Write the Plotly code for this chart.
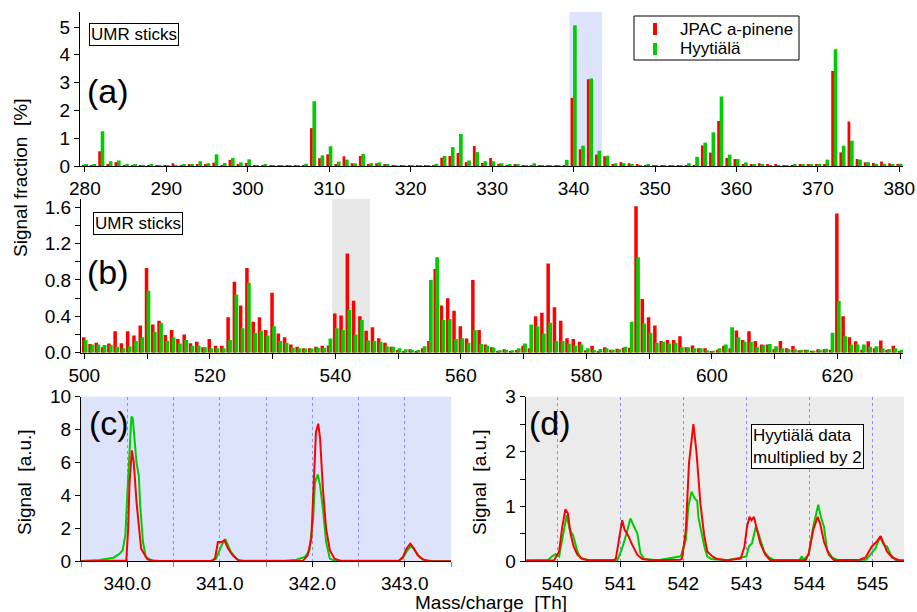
import plotly.graph_objects as go

# ---------------- data ----------------
A_MZ = list(range(280, 381))
A_JPAC = [0.02, 0.02, 0.53, 0.06, 0.14, 0.02, 0.02, 0.01, 0.02, 0.01,
          0.01, 0.10, 0.02, 0.04, 0.06, 0.07, 0.12, 0.03, 0.22, 0.07,
          0.11, 0.02, 0.02, 0.01, 0.01, 0.01, 0.01, 0.02, 1.36, 0.28,
          0.42, 0.07, 0.35, 0.10, 0.36, 0.07, 0.10, 0.05, 0.02, 0.01,
          0.01, 0.01, 0.02, 0.03, 0.30, 0.36, 0.47, 0.14, 0.72, 0.11,
          0.29, 0.08, 0.03, 0.06, 0.02, 0.02, 0.01, 0.01, 0.02, 0.02,
          2.45, 0.60, 3.12, 0.41, 0.35, 0.07, 0.14, 0.10, 0.04, 0.03,
          0.02, 0.01, 0.01, 0.01, 0.02, 0.03, 0.74, 0.48, 1.62, 0.29,
          0.25, 0.06, 0.04, 0.10, 0.04, 0.04, 0.02, 0.03, 0.05, 0.05,
          0.04, 0.04, 3.42, 0.49, 1.60, 0.25, 0.13, 0.11, 0.16, 0.10,
          0.07]
A_HYY = [0.05, 0.05, 1.25, 0.17, 0.20, 0.05, 0.06, 0.02, 0.06, 0.02,
         0.01, 0.03, 0.05, 0.06, 0.17, 0.10, 0.42, 0.11, 0.29, 0.13,
         0.24, 0.03, 0.05, 0.02, 0.01, 0.01, 0.02, 0.08, 2.33, 0.38,
         0.71, 0.16, 0.23, 0.10, 0.43, 0.10, 0.13, 0.05, 0.02, 0.02,
         0.01, 0.02, 0.02, 0.08, 0.36, 0.68, 1.15, 0.20, 0.50, 0.17,
         0.17, 0.10, 0.07, 0.05, 0.02, 0.10, 0.03, 0.02, 0.03, 0.22,
         5.06, 0.73, 3.15, 0.55, 0.37, 0.10, 0.10, 0.06, 0.03, 0.05,
         0.02, 0.02, 0.02, 0.02, 0.10, 0.33, 0.84, 1.21, 2.50, 0.41,
         0.25, 0.13, 0.04, 0.07, 0.03, 0.03, 0.02, 0.07, 0.05, 0.04,
         0.07, 0.23, 4.20, 0.73, 0.91, 0.23, 0.14, 0.08, 0.08, 0.07,
         0.08]

B_MZ = list(range(500, 631))
B_JPAC = [0.17, 0.095, 0.11, 0.06, 0.10, 0.235, 0.105, 0.235, 0.19, 0.30,
          0.93, 0.31, 0.35, 0.195, 0.25, 0.15, 0.20, 0.105, 0.12, 0.06,
          0.15, 0.077, 0.077, 0.39, 0.78, 0.52, 0.93, 0.34, 0.39, 0.25,
          0.66, 0.21, 0.17, 0.09, 0.066, 0.05, 0.05, 0.066, 0.077, 0.08,
          0.43, 0.41, 1.09, 0.57, 0.40, 0.24, 0.28, 0.16, 0.11, 0.066,
          0.03, 0.02, 0.037, 0.02, 0.05, 0.13, 0.92, 0.52, 0.60, 0.46,
          0.29, 0.155, 0.80, 0.25, 0.09, 0.06, 0.01, 0.037, 0.011, 0.03,
          0.077, 0.048, 0.40, 0.44, 0.98, 0.50, 0.35, 0.16, 0.15, 0.12,
          0.026, 0.077, 0.01, 0.06, 0.033, 0.044, 0.055, 0.055, 1.61, 0.59,
          0.39, 0.30, 0.13, 0.14, 0.14, 0.18, 0.06, 0.08, 0.048, 0.048,
          0.011, 0.033, 0.077, 0.048, 0.245, 0.14, 0.235, 0.13, 0.09, 0.09,
          0.037, 0.13, 0.05, 0.073, 0.026, 0.033, 0.022, 0.037, 0.037, 0.033,
          1.53, 0.40, 0.17, 0.125, 0.033, 0.125, 0.048, 0.135, 0.03, 0.077,
          0.015]
B_HYY = [0.14, 0.09, 0.09, 0.085, 0.085, 0.065, 0.05, 0.07, 0.13, 0.17,
         0.68, 0.23, 0.33, 0.13, 0.17, 0.10, 0.14, 0.077, 0.08, 0.06,
         0.05, 0.05, 0.05, 0.14, 0.64, 0.27, 0.77, 0.22, 0.24, 0.19,
         0.29, 0.13, 0.11, 0.055, 0.05, 0.045, 0.045, 0.055, 0.055, 0.155,
         0.27, 0.25, 0.47, 0.20, 0.36, 0.135, 0.13, 0.12, 0.07, 0.066,
         0.05, 0.037, 0.033, 0.03, 0.07, 0.80, 1.05, 0.36, 0.37, 0.15,
         0.16, 0.11, 0.25, 0.095, 0.077, 0.055, 0.026, 0.033, 0.026, 0.048,
         0.10, 0.31, 0.29, 0.21, 0.33, 0.13, 0.13, 0.10, 0.08, 0.09,
         0.048, 0.03, 0.04, 0.048, 0.033, 0.037, 0.066, 0.34, 1.05, 0.32,
         0.22, 0.11, 0.12, 0.10, 0.11, 0.06, 0.06, 0.048, 0.048, 0.026,
         0.022, 0.048, 0.09, 0.28, 0.17, 0.12, 0.12, 0.06, 0.085, 0.095,
         0.07, 0.048, 0.037, 0.04, 0.03, 0.033, 0.022, 0.033, 0.044, 0.22,
         0.57, 0.18, 0.09, 0.09, 0.09, 0.066, 0.07, 0.048, 0.04, 0.048,
         0.033]

C_MZ_HYY = [339.5, 339.7, 339.85, 339.92, 339.95, 339.98, 340.0, 340.03, 340.045, 340.06,
            340.08, 340.1, 340.125, 340.14, 340.17, 340.2, 340.26, 340.35, 340.9, 340.96,
            341.02, 341.06, 341.09, 341.12, 341.18, 341.22, 341.7, 341.83, 341.92, 341.97,
            342.01, 342.03, 342.06, 342.085, 342.115, 342.15, 342.19, 342.24, 342.93, 342.98,
            343.02, 343.07, 343.12, 343.17, 343.22, 343.3, 343.5]
C_HYY = [0.02, 0.08, 0.22, 0.47, 0.67, 1.6, 4.0, 7.85, 8.8, 8.67,
         7.05, 6.0, 5.2, 3.4, 1.17, 0.26, 0.06, 0.02, 0.02, 0.16,
         0.97, 1.34, 0.97, 0.57, 0.16, 0.03, 0.03, 0.1, 0.26, 0.67,
         2.6, 4.8, 5.27, 4.6, 3.2, 1.17, 0.16, 0.03, 0.03, 0.2,
         0.6, 0.95, 0.57, 0.2, 0.05, 0.02, 0.02]
C_MZ_JPAC = [339.5, 339.9, 339.99, 340.01, 340.025, 340.05, 340.07, 340.1, 340.13, 340.15,
             340.18, 340.22, 340.28, 340.92, 340.95, 340.98, 341.02, 341.05, 341.09, 341.14,
             341.2, 341.26, 341.9, 341.95, 341.99, 342.02, 342.04, 342.065, 342.085, 342.115,
             342.15, 342.19, 342.24, 342.31, 342.94, 342.98, 343.02, 343.06, 343.1, 343.14,
             343.2, 343.27, 343.5]
C_JPAC = [0.01, 0.02, 0.05, 2.0, 4.8, 6.74, 6.03, 3.6, 1.58, 0.77,
          0.47, 0.12, 0.02, 0.02, 0.2, 1.17, 1.17, 1.28, 0.77, 0.36,
          0.06, 0.02, 0.03, 0.36, 1.38, 5.0, 7.85, 8.36, 7.45, 4.4,
          1.98, 0.67, 0.16, 0.02, 0.03, 0.26, 0.77, 1.07, 0.77, 0.36,
          0.1, 0.02, 0.01]

D_MZ_JPAC = [539.5, 539.95, 540.03, 540.08, 540.13, 540.17, 540.21, 540.26, 540.32, 540.4,
             540.5, 540.9, 540.93, 540.98, 541.03, 541.07, 541.12, 541.19, 541.27, 541.35,
             541.5, 541.95, 541.98, 542.04, 542.09, 542.16, 542.21, 542.27, 542.33, 542.38,
             542.46, 542.54, 542.7, 542.91, 542.97, 543.01, 543.05, 543.08, 543.12, 543.17,
             543.22, 543.3, 543.38, 543.94, 543.99, 544.06, 544.13, 544.17, 544.23, 544.31,
             544.39, 544.8, 544.89, 544.99, 545.07, 545.13, 545.18, 545.23, 545.31, 545.42,
             545.5]
D_JPAC = [0.01, 0.02, 0.18, 0.63, 0.95, 0.87, 0.51, 0.27, 0.12, 0.04,
          0.02, 0.02, 0.05, 0.39, 0.75, 0.57, 0.48, 0.3, 0.12, 0.04,
          0.02, 0.03, 0.05, 0.57, 1.79, 2.5, 1.97, 1.06, 0.48, 0.18,
          0.09, 0.04, 0.02, 0.05, 0.27, 0.63, 0.81, 0.75, 0.81, 0.57,
          0.33, 0.12, 0.02, 0.02, 0.15, 0.57, 0.81, 0.69, 0.36, 0.12,
          0.02, 0.03, 0.07, 0.27, 0.36, 0.46, 0.33, 0.18, 0.07, 0.02,
          0.01]
D_MZ_HYY = [539.5, 539.85, 539.92, 539.97, 540.03, 540.08, 540.15, 540.2, 540.25, 540.32,
            540.37, 540.5, 540.95, 540.98, 541.03, 541.1, 541.16, 541.22, 541.27, 541.32,
            541.38, 541.6, 541.96, 542.04, 542.08, 542.13, 542.18, 542.22, 542.24, 542.28,
            542.34, 542.38, 542.44, 542.7, 543.0, 543.04, 543.09, 543.15, 543.2, 543.28,
            543.36, 543.44, 543.84, 543.88, 543.9, 543.99, 544.06, 544.14, 544.18, 544.23,
            544.28, 544.36, 544.45, 544.9, 544.97, 545.05, 545.12, 545.18, 545.23, 545.29,
            545.37, 545.5]
D_HYY = [0.02, 0.02, 0.09, 0.13, 0.09, 0.39, 0.84, 0.57, 0.48, 0.18,
         0.06, 0.02, 0.02, 0.09, 0.24, 0.51, 0.78, 0.63, 0.51, 0.15,
         0.04, 0.02, 0.09, 0.39, 1.0, 1.27, 1.15, 1.1, 0.8, 0.57,
         0.24, 0.09, 0.04, 0.02, 0.09, 0.27, 0.33, 0.63, 0.48, 0.18,
         0.07, 0.02, 0.02, 0.09, 0.02, 0.12, 0.63, 1.03, 0.81, 0.63,
         0.21, 0.07, 0.02, 0.03, 0.12, 0.24, 0.45, 0.3, 0.27, 0.12,
         0.02, 0.02]

ZOOM_C = [339.5, 343.5]   # m/z window shown in panel (c), highlighted in (a)
ZOOM_D = [539.5, 545.5]   # m/z window shown in panel (d), highlighted in (b)

SERIES = ["JPAC a-pinene", "Hyytiälä"]
RED = "#ff0000"
GREEN = "#00cc00"
BLUE_BG = "#dce3fa"
GRAY_BG = "#ebebeb"
GRID = "#8c8cff"
FONT = "Liberation Sans, Arial, sans-serif"

W, H = 917, 612


def px(x):
    return x / W


def py(y):
    return 1 - y / H


fig = go.Figure()

# panel (a) sticks
fig.add_trace(go.Bar(x=A_MZ, y=A_JPAC, offset=-0.36, width=0.34, marker=dict(color=RED, line_width=0),
                     xaxis="x", yaxis="y", showlegend=False, name=SERIES[0]))
fig.add_trace(go.Bar(x=A_MZ, y=A_HYY, offset=-0.06, width=0.45, marker=dict(color=GREEN, line_width=0),
                     xaxis="x", yaxis="y", showlegend=False, name=SERIES[1]))
# panel (b) sticks
fig.add_trace(go.Bar(x=B_MZ, y=B_JPAC, offset=-0.37, width=0.56, marker=dict(color=RED, line_width=0),
                     xaxis="x2", yaxis="y2", showlegend=False, name=SERIES[0]))
fig.add_trace(go.Bar(x=B_MZ, y=B_HYY, offset=-0.08, width=0.6, marker=dict(color=GREEN, line_width=0),
                     xaxis="x2", yaxis="y2", showlegend=False, name=SERIES[1]))
# panel (c) spectra
fig.add_trace(go.Scatter(x=C_MZ_HYY, y=C_HYY, mode="lines", line=dict(color=GREEN, width=2),
                         xaxis="x3", yaxis="y3", showlegend=False, name=SERIES[1]))
fig.add_trace(go.Scatter(x=C_MZ_JPAC, y=C_JPAC, mode="lines", line=dict(color=RED, width=2),
                         xaxis="x3", yaxis="y3", showlegend=False, name=SERIES[0]))
# panel (d) spectra
fig.add_trace(go.Scatter(x=D_MZ_HYY, y=D_HYY, mode="lines", line=dict(color=GREEN, width=2),
                         xaxis="x4", yaxis="y4", showlegend=False, name=SERIES[1]))
fig.add_trace(go.Scatter(x=D_MZ_JPAC, y=D_JPAC, mode="lines", line=dict(color=RED, width=2),
                         xaxis="x4", yaxis="y4", showlegend=False, name=SERIES[0]))

axis_common = dict(showline=True, linecolor="black", linewidth=1, ticks="outside", ticklen=5,
                   tickcolor="black", showgrid=False, zeroline=False, automargin=False,
                   tickfont=dict(size=19, color="black", family=FONT))

fig.update_layout(
    template="none",
    width=W, height=H, margin=dict(l=0, r=0, t=0, b=0, pad=0, autoexpand=False),
    paper_bgcolor="white", plot_bgcolor="rgba(0,0,0,0)",
    barmode="overlay", showlegend=False,
    font=dict(family=FONT, color="black"),
    xaxis=dict(domain=[px(80), px(903)], range=[279.4, 380.45], anchor="y",
               tick0=280, dtick=10, **axis_common),
    yaxis=dict(domain=[py(166), py(12)], range=[0, 5.54], anchor="x",
               tick0=0, dtick=1, **axis_common),
    xaxis2=dict(domain=[px(81), px(903)], range=[499.47, 630.45], anchor="y2",
                tick0=500, dtick=20, minor=dict(dtick=10, ticks="outside", ticklen=5, tickcolor="black"),
                **axis_common),
    yaxis2=dict(domain=[py(352.7), py(199)], range=[0, 1.69], anchor="x2",
                tick0=0, dtick=0.4, tickformat=".1f",
                minor=dict(dtick=0.2, ticks="outside", ticklen=5, tickcolor="black"),
                **axis_common),
    xaxis3=dict(domain=[px(81), px(451)], range=ZOOM_C, anchor="y3",
                tick0=340, dtick=1, tickformat=".1f",
                **{**axis_common, "showgrid": True},
                gridcolor=GRID, griddash="dot", gridwidth=1,
                minor=dict(dtick=0.5, ticks="outside", ticklen=5, tickcolor="#888888",
                           showgrid=True, gridcolor=GRID, griddash="dot", gridwidth=1)),
    yaxis3=dict(domain=[py(561.3), py(396.7)], range=[0, 10], anchor="x3",
                tick0=0, dtick=2, **axis_common),
    xaxis4=dict(domain=[px(525.7), px(904)], range=ZOOM_D, anchor="y4",
                tick0=540, dtick=1,
                **{**axis_common, "showgrid": True},
                gridcolor=GRID, griddash="dot", gridwidth=1),
    yaxis4=dict(domain=[py(561.3), py(396.7)], range=[0, 3], anchor="x4",
                tick0=0, dtick=1,
                minor=dict(dtick=0.5, ticks="outside", ticklen=5, tickcolor="black"),
                **axis_common),
)

shapes = [
    dict(type="rect", xref="x", yref="y domain", x0=ZOOM_C[0], x1=ZOOM_C[1], y0=0, y1=1,
         fillcolor=BLUE_BG, line_width=0, layer="below"),
    dict(type="rect", xref="x2", yref="y2 domain", x0=ZOOM_D[0], x1=ZOOM_D[1], y0=0, y1=1,
         fillcolor="#e8e8e8", line_width=0, layer="below"),
    dict(type="rect", xref="x3 domain", yref="y3 domain", x0=0, x1=1, y0=0, y1=1,
         fillcolor=BLUE_BG, line_width=0, layer="below"),
    dict(type="rect", xref="x4 domain", yref="y4 domain", x0=0, x1=1, y0=0, y1=1,
         fillcolor=GRAY_BG, line_width=0, layer="below"),
    # legend frame and stick keys
    dict(type="rect", xref="paper", yref="paper", x0=px(634), x1=px(799), y0=py(60), y1=py(16),
         fillcolor="white", line=dict(color="black", width=1), layer="above"),
    dict(type="line", xref="paper", yref="paper", x0=px(655), x1=px(655), y0=py(35), y1=py(23),
         line=dict(color=RED, width=4), layer="above"),
    dict(type="line", xref="paper", yref="paper", x0=px(655), x1=px(655), y0=py(55), y1=py(43),
         line=dict(color=GREEN, width=4), layer="above"),
]
fig.update_layout(shapes=shapes)

ann = []


def label(text, x, y, size, **kw):
    d = dict(text=text, x=px(x), y=py(y), xref="paper", yref="paper", showarrow=False,
             font=dict(size=size, family=FONT, color="black"))
    d.update(kw)
    ann.append(d)


label(SERIES[0], 678, 29, 17, xanchor="left", yanchor="middle")
label(SERIES[1], 678, 49, 17, xanchor="left", yanchor="middle")
label("(a)", 85, 91, 34, xanchor="left", yanchor="middle")
label("(b)", 85, 272, 34, xanchor="left", yanchor="middle")
label("(c)", 87, 423, 34, xanchor="left", yanchor="middle")
label("(d)", 527, 423, 34, xanchor="left", yanchor="middle")
label("UMR sticks", 89, 23, 17, xanchor="left", yanchor="top",
      bordercolor="black", borderwidth=1, borderpad=1, bgcolor="white")
label("UMR sticks", 93, 212, 17, xanchor="left", yanchor="top",
      bordercolor="black", borderwidth=1, borderpad=1, bgcolor="white")
label("Hyytiälä data<br>multiplied by 2", 751, 424, 17, xanchor="left", yanchor="top", align="left",
      bordercolor="black", borderwidth=1, borderpad=1, bgcolor="white")
label("Signal fraction  [%]", 20, 178, 19, textangle=-90, xanchor="center", yanchor="middle")
label("Signal  [a.u.]", 24, 482, 19, textangle=-90, xanchor="center", yanchor="middle")
label("Signal  [a.u.]", 479, 482, 19, textangle=-90, xanchor="center", yanchor="middle")
label("Mass/charge  [Th]", 491, 602, 19, xanchor="center", yanchor="middle")
fig.update_layout(annotations=ann)

fig.write_html("out.html", config={"displayModeBar": False},
               post_script="document.body.style.margin='0';")
